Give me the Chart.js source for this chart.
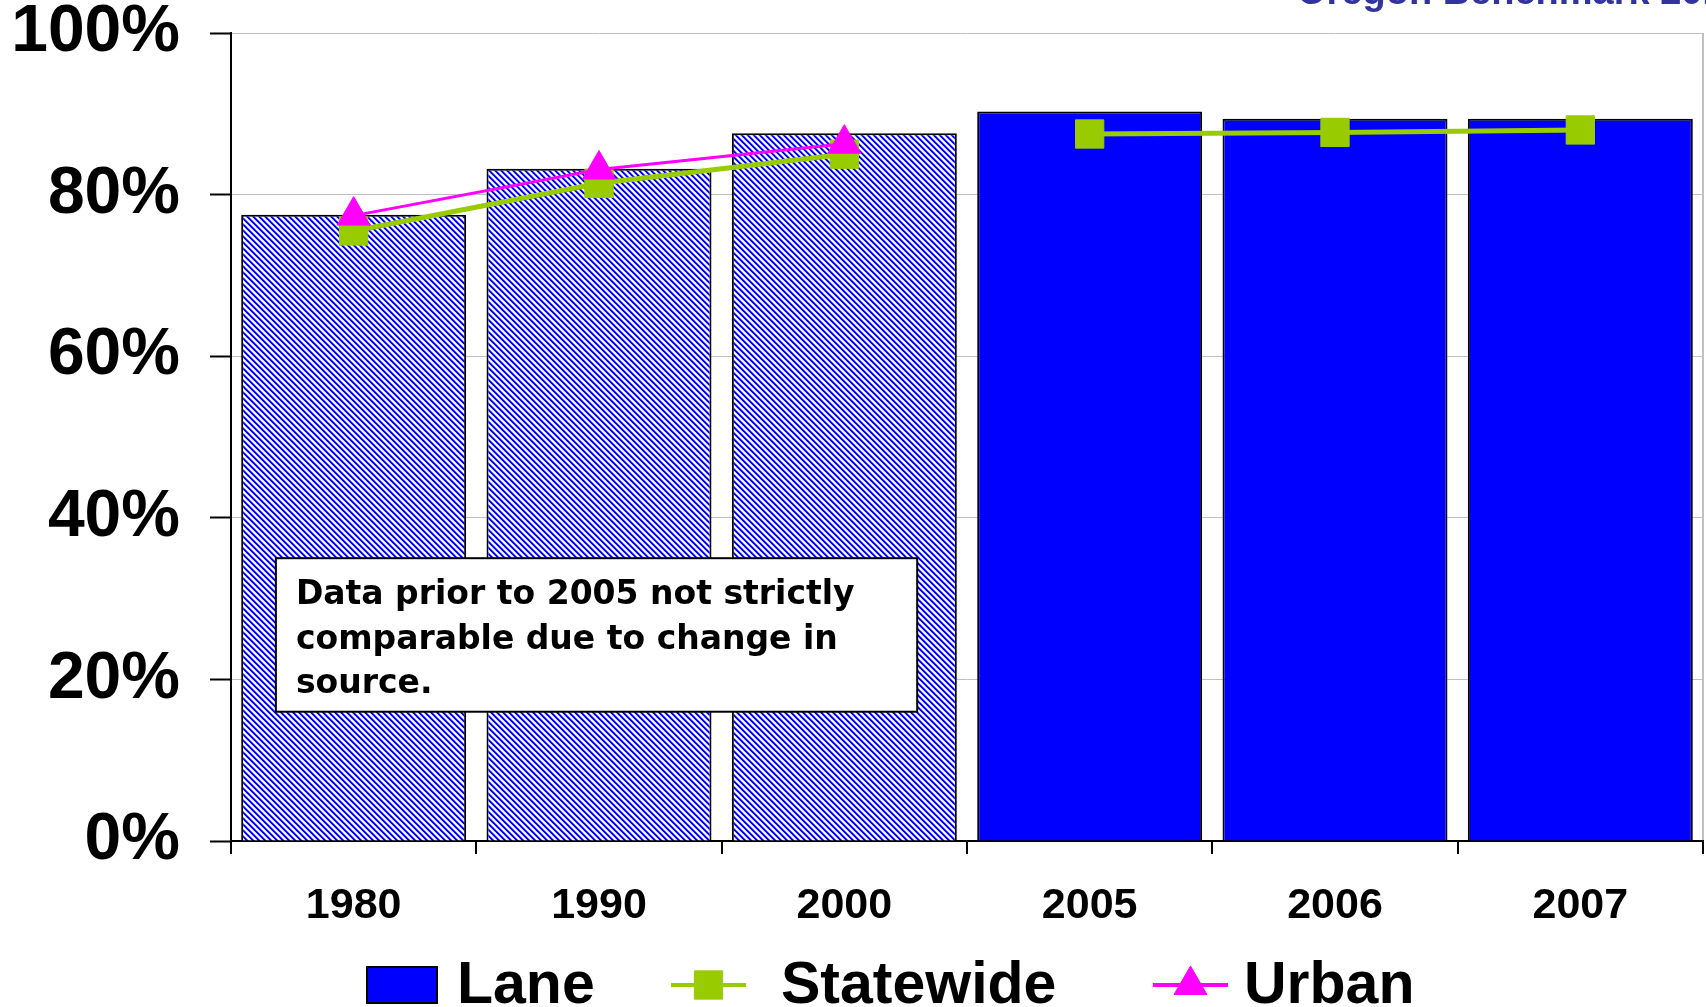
<!DOCTYPE html>
<html>
<head>
<meta charset="utf-8">
<script src="https://cdn.jsdelivr.net/npm/chart.js@4.4.1/dist/chart.umd.min.js"></script>
<style>
  html, body { margin: 0; background: #fff; }
</style>
</head>
<body>
<canvas id="chart" width="1706" height="1007"></canvas>
<script>
const years = ["1980", "1990", "2000", "2005", "2006", "2007"];
const lane = [77.5, 83.2, 87.6, 90.3, 89.4, 89.4];
const statewide = [75.5, 81.4, 85.0, 87.5, 87.7, 88.0];
const urban = [77.4, 83.1, 86.3, null, null, null];
const yTicks = [0, 20, 40, 60, 80, 100];
const lastOldSource = 2; // 1980-2000 come from the old source (hatched, no line into 2005)
const note = ["Data prior to 2005 not strictly", "comparable due to change in", "source."];
const headline = "Oregon Benchmark 2010";

const BLUE = "#0000ff";
const GREEN = "#99cc00";
const PINK = "#ff00ff";
const ARIAL = "'Liberation Sans', Arial, sans-serif";

// diagonal blue/white stripes for the old-source bars
const makeHatch = () => {
  const n = 12;
  const shades = [BLUE, BLUE, "#7777ff", "#fff", "#fff", "#bbbbff"];
  const c = document.createElement("canvas");
  c.width = n;
  c.height = n;
  const g = c.getContext("2d");
  for (let y = 0; y < n; y++) {
    for (let x = 0; x < n; x++) {
      g.fillStyle = shades[(((x - y) % 6) + 6) % 6];
      g.fillRect(x, y, 1, 1);
    }
  }
  return g.createPattern(c, "repeat");
};
const hatch = makeHatch();

const notePlugin = {
  id: "note",
  afterDraw(chart) {
    const { ctx, scales: { x, y } } = chart;
    const step = x.getPixelForValue(1) - x.getPixelForValue(0);
    const left = x.getPixelForValue(0) - step * 0.317;
    const right = x.getPixelForValue(2) + step * 0.297;
    const top = y.getPixelForValue(35);
    const bottom = y.getPixelForValue(16);
    ctx.save();
    ctx.fillStyle = "#fff";
    ctx.fillRect(left, top, right - left, bottom - top);
    ctx.strokeStyle = "#000";
    ctx.lineWidth = 2;
    ctx.strokeRect(left, top, right - left, bottom - top);
    ctx.fillStyle = "#000";
    ctx.font = "bold 33px 'DejaVu Sans', Verdana, sans-serif";
    ctx.textBaseline = "alphabetic";
    note.forEach((line, i) => ctx.fillText(line, left + 20, top + 46 + i * 44.5));
    ctx.restore();
  }
};

const headlinePlugin = {
  id: "headline",
  afterDraw(chart) {
    const ctx = chart.ctx;
    ctx.save();
    ctx.fillStyle = "#3333a0";
    ctx.font = "bold 38px " + ARIAL;
    ctx.textBaseline = "alphabetic";
    ctx.fillText(headline, chart.width - 409, 4);
    ctx.restore();
  }
};

// legend drawn by hand so the line series get "line through marker" symbols
const legendSymbolX = [367, 671, 1153];
const legendTextX = [457, 781, 1244];
const legendPlugin = {
  id: "customLegend",
  afterDraw(chart) {
    const ctx = chart.ctx;
    const cy = 985;
    ctx.save();
    ctx.font = "bold 59px " + ARIAL;
    ctx.textBaseline = "middle";
    const items = [chart.data.datasets[2], chart.data.datasets[1], chart.data.datasets[0]];
    items.forEach((ds, i) => {
      const x = legendSymbolX[i];
      if (ds.type === "bar") {
        ctx.fillStyle = BLUE;
        ctx.fillRect(x, cy - 18, 70, 36);
        ctx.strokeStyle = "#000";
        ctx.lineWidth = 2;
        ctx.strokeRect(x, cy - 18, 70, 36);
      } else {
        ctx.strokeStyle = ds.borderColor;
        ctx.lineWidth = 4;
        ctx.beginPath();
        ctx.moveTo(x, cy);
        ctx.lineTo(x + 75, cy);
        ctx.stroke();
        ctx.fillStyle = ds.backgroundColor;
        ctx.lineWidth = 1;
        Chart.helpers.drawPoint(ctx, {
          pointStyle: ds.pointStyle,
          radius: ds.pointRadius,
          borderWidth: 1,
          rotation: 0
        }, x + 37.5, cy);
      }
      ctx.fillStyle = "#000";
      ctx.fillText(ds.label, legendTextX[i], cy + 2);
    });
    ctx.restore();
  }
};

const ctx = document.getElementById("chart");

const chart = new Chart(ctx, {
  data: {
    labels: years,
    datasets: [
      {
        type: "line",
        label: "Urban",
        data: urban,
        order: 1,
        borderColor: PINK,
        backgroundColor: PINK,
        borderWidth: 3,
        tension: 0,
        pointStyle: "triangle",
        pointRadius: 19,
        pointHoverRadius: 19,
        pointBorderWidth: 1
      },
      {
        type: "line",
        label: "Statewide",
        data: statewide,
        order: 2,
        borderColor: GREEN,
        backgroundColor: GREEN,
        borderWidth: 5,
        tension: 0,
        pointStyle: "rect",
        pointRadius: 20,
        pointHoverRadius: 20,
        pointBorderWidth: 1,
        segment: {
          borderColor: c => (c.p0DataIndex === lastOldSource ? "rgba(0,0,0,0)" : undefined)
        }
      },
      {
        type: "bar",
        label: "Lane",
        data: lane,
        order: 3,
        backgroundColor: lane.map((v, i) => (i <= lastOldSource ? hatch : BLUE)),
        borderColor: "#000",
        borderWidth: 2,
        barPercentage: 0.917,
        categoryPercentage: 1
      }
    ]
  },
  options: {
    responsive: false,
    animation: false,
    layout: { autoPadding: false, padding: { top: 0, right: 3, left: 0, bottom: 0 } },
    plugins: {
      legend: { display: false },
      tooltip: { enabled: false },
      title: { display: false }
    },
    scales: {
      x: {
        grid: {
          offset: true,
          drawOnChartArea: true,
          color: c => (c.type === "scale" ? "#c0c0c0" : "rgba(0,0,0,0)"),
          lineWidth: 2,
          tickColor: "#000",
          tickWidth: 2,
          tickLength: 13
        },
        border: { color: "#000", width: 2 },
        ticks: {
          color: "#000",
          font: { family: ARIAL, weight: "bold", size: 43 },
          padding: 26,
          maxRotation: 0
        },
        afterFit: s => {
          s.height = 166;
          s.paddingLeft = 0;
          s.paddingRight = 0;
        }
      },
      y: {
        min: 0,
        max: 100,
        afterBuildTicks: s => { s.ticks = yTicks.map(v => ({ value: v })); },
        grid: {
          color: "#c0c0c0",
          lineWidth: 1,
          tickColor: "#000",
          tickWidth: 2,
          tickLength: 21
        },
        border: { color: "#000", width: 2 },
        ticks: {
          color: "#000",
          font: { family: ARIAL, weight: "bold", size: 66 },
          padding: 30,
          callback: v => v + "%"
        },
        afterFit: s => {
          s.width = 231;
          s.paddingTop = 33;
          s.paddingBottom = 0;
        }
      }
    }
  },
  plugins: [notePlugin, headlinePlugin, legendPlugin]
});
</script>
</body>
</html>
